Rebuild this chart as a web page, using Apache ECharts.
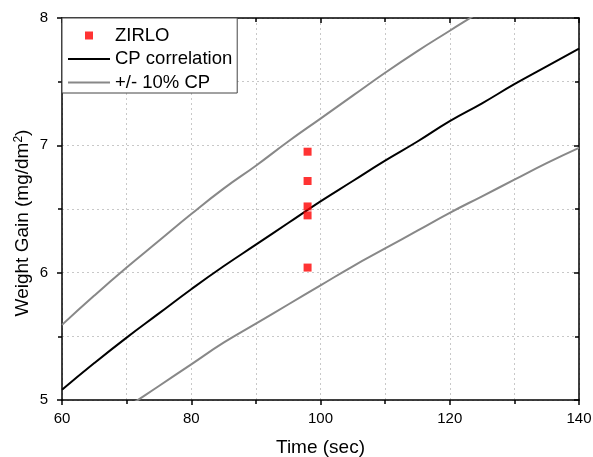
<!DOCTYPE html>
<html>
<head>
<meta charset="utf-8">
<script src="https://cdn.jsdelivr.net/npm/echarts@6/dist/echarts.min.js"></script>
<style>
html,body{margin:0;padding:0;background:#fff;}
#chart{width:593px;height:457px;}
</style>
</head>
<body>
<div id="chart"></div>
<script>
// Data
const timeSec = [60, 65, 70, 75, 80, 85, 90, 95, 100, 105, 110, 115, 120, 125, 130, 135, 140];
const cpCorrelation = [5.08, 5.29, 5.49, 5.68, 5.87, 6.05, 6.22, 6.39, 6.56, 6.72, 6.88, 7.03, 7.19, 7.33, 7.48, 7.62, 7.76];
const cpPlus10 = [5.59, 5.82, 6.04, 6.25, 6.46, 6.66, 6.84, 7.03, 7.21, 7.39, 7.57, 7.74, 7.90, 8.06, 8.23, 8.38, 8.54];
const cpMinus10 = [4.57, 4.76, 4.94, 5.11, 5.28, 5.45, 5.60, 5.75, 5.90, 6.05, 6.19, 6.33, 6.47, 6.60, 6.73, 6.86, 6.98];
const zirloTime = [98, 98, 98, 98, 98];
const zirloGain = [6.95, 6.72, 6.52, 6.45, 6.04];
const xTicks = {min: 60, max: 140, step: 20};
const yTicks = {min: 5, max: 8, step: 1};

const FONT = '"Liberation Sans", Arial, sans-serif';
const pairs = (xs, ys) => xs.map((x, i) => [x, ys[i]]);

const gridDash = {color: '#c8c8c8', width: 1, type: [2, 3]};

function xAxisDef(pos) {
  const bottom = pos === 'bottom';
  return {
    type: 'value', position: pos,
    min: xTicks.min, max: xTicks.max, interval: xTicks.step,
    name: bottom ? 'Time (sec)' : '',
    nameLocation: 'middle', nameGap: 38, nameMoveOverlap: false,
    nameTextStyle: {fontFamily: FONT, fontSize: 19, color: '#000'},
    axisLine: {show: true, onZero: false, lineStyle: {color: '#000', width: 1.5}},
    axisTick: {show: true, inside: !bottom, length: 5, lineStyle: {color: '#000', width: 1.5}},
    minorTick: {show: true, splitNumber: 2, length: 4, lineStyle: {color: '#000', width: 1.5}},
    axisLabel: {show: bottom, fontFamily: FONT, fontSize: 15, color: '#000', margin: 11},
    splitLine: {show: bottom, lineStyle: gridDash},
    minorSplitLine: {show: bottom, lineStyle: gridDash}
  };
}
function yAxisDef(pos) {
  const left = pos === 'left';
  return {
    type: 'value', position: pos,
    min: yTicks.min, max: yTicks.max, interval: yTicks.step,
    name: left ? 'Weight Gain (mg/dm{sup|2})' : '',
    nameLocation: 'middle', nameGap: 29, nameMoveOverlap: false,
    nameTextStyle: {
      fontFamily: FONT, fontSize: 19, color: '#000', padding: [0, 28, 0, 0],
      rich: {sup: {fontFamily: FONT, fontSize: 12, color: '#000', verticalAlign: 'top', padding: [0, 0, 8, 0]}}
    },
    axisLine: {show: true, onZero: false, lineStyle: {color: '#000', width: 1.5}},
    axisTick: {show: true, inside: !left, length: 5, lineStyle: {color: '#000', width: 1.5}},
    minorTick: {show: true, splitNumber: 2, length: 4, lineStyle: {color: '#000', width: 1.5}},
    axisLabel: {show: left, fontFamily: FONT, fontSize: 15, color: '#000', margin: 14},
    splitLine: {show: left, lineStyle: gridDash},
    minorSplitLine: {show: left, lineStyle: gridDash}
  };
}

const chart = echarts.init(document.getElementById('chart'), null, {renderer: 'canvas'});
chart.setOption({
  animation: false,
  backgroundColor: '#fff',
  grid: {left: 62, right: 14, top: 18, bottom: 57, containLabel: false, outerBoundsMode: 'none'},
  xAxis: [xAxisDef('bottom'), xAxisDef('top')],
  yAxis: [yAxisDef('left'), yAxisDef('right')],
  legend: {
    orient: 'vertical', left: 62, top: 18,
    padding: [8, 5, 1, 5], itemGap: 4.5,
    itemWidth: 42, itemHeight: 8,
    backgroundColor: '#fff', borderColor: '#444', borderWidth: 1,
    textStyle: {fontFamily: FONT, fontSize: 18.5, color: '#000'},
    data: [
      {name: 'ZIRLO', icon: 'path://M0,0L1,0L1,1L0,1Z'},
      {name: 'CP correlation', itemStyle: {opacity: 0}},
      {name: '+/- 10% CP', itemStyle: {opacity: 0}}
    ]
  },
  series: [
    {
      name: 'CP correlation', type: 'line', xAxisIndex: 0, yAxisIndex: 0,
      data: pairs(timeSec, cpCorrelation), smooth: true, symbol: 'none',
      lineStyle: {color: '#000', width: 2}, itemStyle: {color: '#000'}, z: 3
    },
    {
      name: '+/- 10% CP', type: 'line', xAxisIndex: 0, yAxisIndex: 0,
      data: pairs(timeSec, cpPlus10), smooth: true, symbol: 'none',
      lineStyle: {color: '#888', width: 2}, itemStyle: {color: '#888'}, z: 2
    },
    {
      name: '+/- 10% CP', type: 'line', xAxisIndex: 0, yAxisIndex: 0,
      data: pairs(timeSec, cpMinus10), smooth: true, symbol: 'none',
      lineStyle: {color: '#888', width: 2}, itemStyle: {color: '#888'}, z: 2
    },
    {
      name: 'ZIRLO', type: 'scatter', xAxisIndex: 0, yAxisIndex: 0,
      data: pairs(zirloTime, zirloGain), symbol: 'rect', symbolSize: 8,
      itemStyle: {color: '#ff0000'}, z: 5
    }
  ]
});
</script>
</body>
</html>
